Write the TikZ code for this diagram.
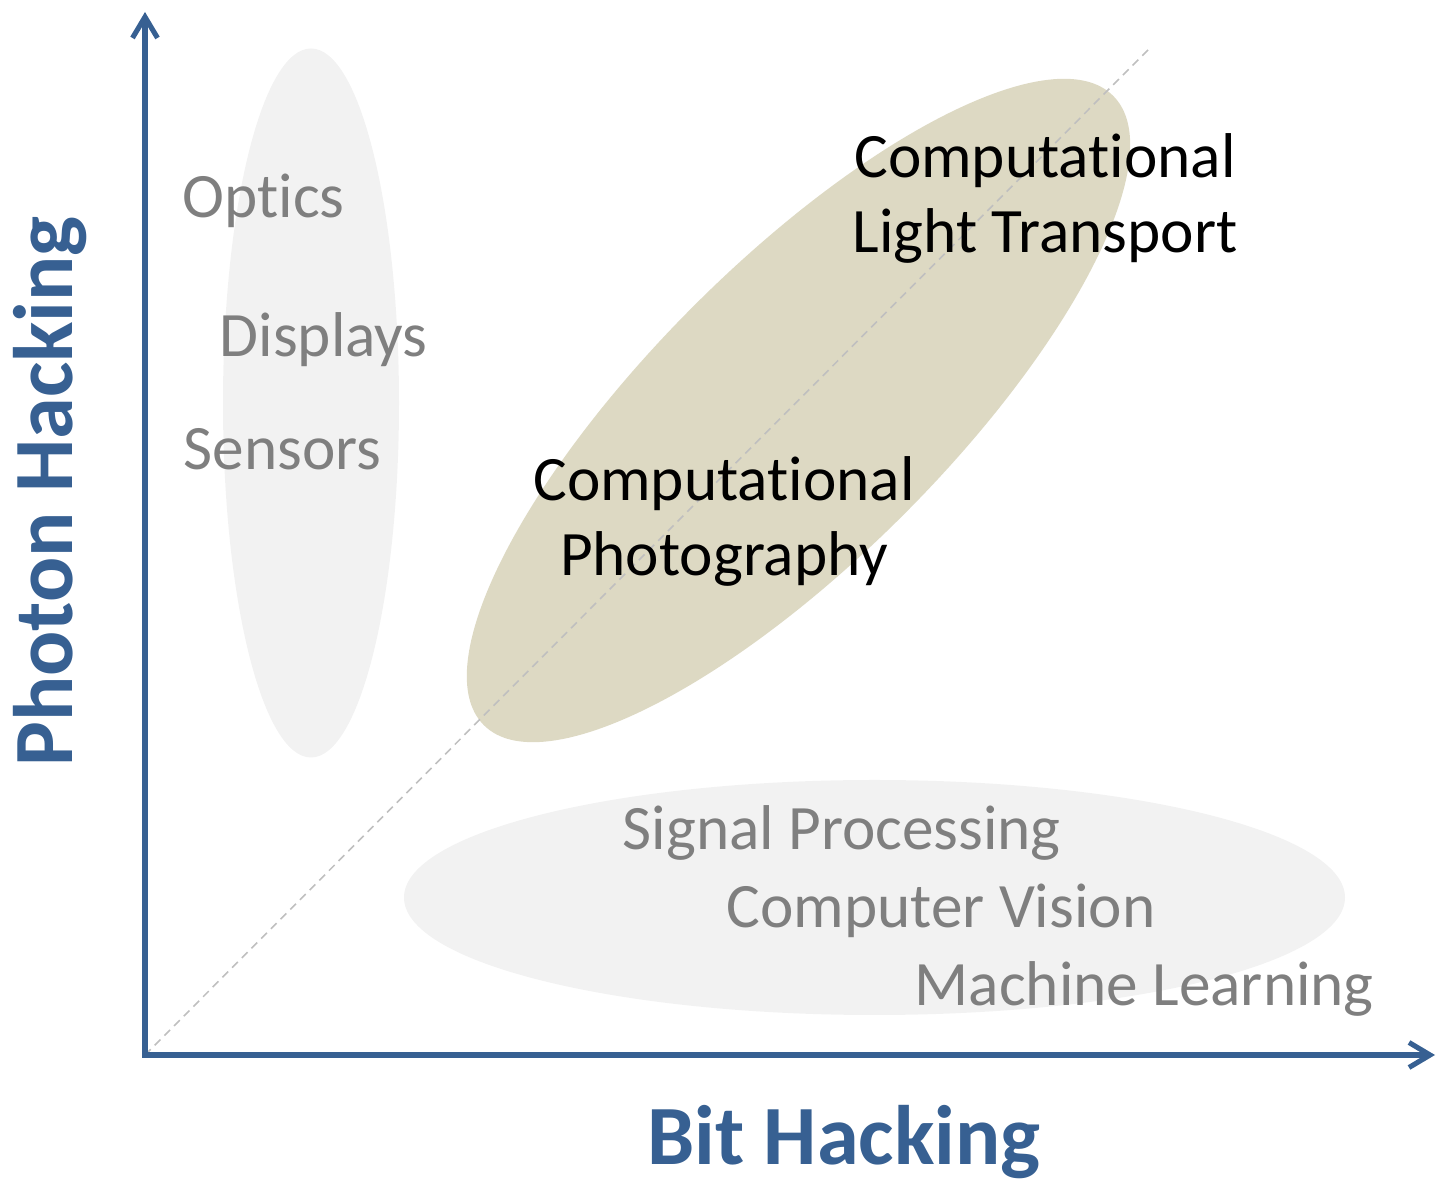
\documentclass[tikz,border=0pt]{standalone}
\usepackage{fontspec}
\setmainfont{Carlito}[Ligatures={NoCommon,NoContextual}]
\usetikzlibrary{arrows.meta, calc}
\definecolor{ejeazul}{RGB}{55,96,146}
\definecolor{grisclaro}{RGB}{242,242,242}
\definecolor{arena}{RGB}{221,217,195}
\definecolor{textogris}{RGB}{127,127,127}
\definecolor{diaggris}{RGB}{191,191,191}
\tikzset{
  eje/.style={ejeazul, line width=1.45pt, line join=miter,
    arrows={Straight Barb[length=2.1mm,width=2.5mm]-Straight Barb[length=2.1mm,width=2.5mm]}},
  ejelabel/.style={ejeazul, font=\fontsize{24}{29}\selectfont\bfseries, inner sep=0pt},
  campo/.style={textogris, font=\fontsize{18}{21.5}\selectfont, inner sep=0pt, anchor=base west},
  area/.style={black, font=\fontsize{18}{21.5}\selectfont, inner sep=0pt, align=center, anchor=base},
}
\begin{document}
\begin{tikzpicture}
  \useasboundingbox (0,0) rectangle (14.37,11.92);

  % Regions
  \fill[grisclaro] (3.11,7.89) ellipse [x radius=0.88, y radius=3.545];
  \fill[grisclaro] (8.745,2.945) ellipse [x radius=4.705, y radius=1.175];
  \fill[arena, rotate around={45:(7.985,7.815)}] (7.985,7.815) ellipse [x radius=4.45, y radius=1.48];

  % Axes
  \coordinate (origen) at (1.45,1.37);
  \coordinate (ytip) at (1.45,11.80);
  \coordinate (xtip) at (14.35,1.37);
  \coordinate (diagfin) at (11.50,11.44);
  \draw[diaggris, line width=0.45pt, dash pattern=on 2.3pt off 1.6pt] (origen) -- (diagfin);
  \draw[eje] (ytip) -- (origen) -- (xtip);

  % Axis labels
  \node[ejelabel, anchor=base] (bit) at (8.44,0.27) {Bit Hacking};
  \node[ejelabel, anchor=base, rotate=90] (photon) at (0.72,7.005) {Photon Hacking};

  % Photon side
  \node[campo] (optics) at (1.82,9.74) {Optics};
  \node[campo] (displays) at (2.19,8.35) {Displays};
  \node[campo] (sensors) at (1.83,7.22) {Sensors};

  % Bit side
  \node[campo] (signal) at (6.22,3.42) {Signal Processing};
  \node[campo] (vision) at (7.26,2.64) {Computer Vision};
  \node[campo] (learning) at (9.14,1.86) {Machine Learning};

  % Both (base = last line)
  \node[area] (photo) at (7.24,6.16) {Computational\\Photography};
  \node[area] (transport) at (10.45,9.39) {Computational\\Light Transport};
\end{tikzpicture}
\end{document}
